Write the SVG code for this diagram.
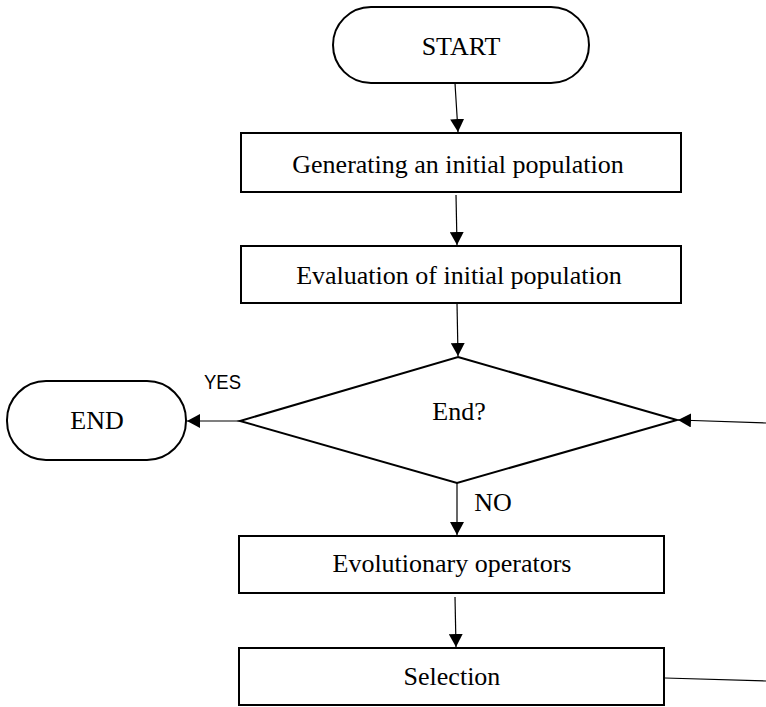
<svg xmlns="http://www.w3.org/2000/svg" width="766" height="707" viewBox="0 0 766 707">
<style>
.box{fill:#fff;stroke:#000;stroke-width:2}
.t{font-family:"Liberation Serif","Times New Roman",serif;font-size:26px;fill:#000;text-anchor:middle}
.s{font-family:"Liberation Sans",Arial,sans-serif;font-size:21px;fill:#000}
.c{fill:none;stroke:#000;stroke-width:1.2;marker-end:url(#ah)}
.cn{fill:none;stroke:#000;stroke-width:1.2}
</style>
<defs>
<marker id="ah" markerWidth="14" markerHeight="14" refX="13" refY="7" orient="auto" markerUnits="userSpaceOnUse">
<path d="M0,0 L13,7 L0,14 Z" fill="#000"/>
</marker>
</defs>
<rect width="766" height="707" fill="#fff"/>
<g id="start">
<rect class="box" x="333" y="7" width="256" height="76" rx="38"/>
<text class="t" x="461" y="55">START</text>
</g>
<g id="gen">
<rect class="box" x="241" y="133" width="440" height="59"/>
<text class="t" x="458" y="173">Generating an initial population</text>
</g>
<g id="eval">
<rect class="box" x="241" y="246" width="440" height="57"/>
<text class="t" x="459" y="284">Evaluation of initial population</text>
</g>
<g id="decision">
<polygon class="box" points="458,357 677,420 457,483 240,421"/>
<text class="t" x="459" y="420">End?</text>
</g>
<g id="end">
<rect class="box" x="7" y="381" width="179" height="79" rx="39"/>
<text class="t" x="97" y="429">END</text>
</g>
<g id="evo">
<rect class="box" x="239" y="536" width="425" height="57"/>
<text class="t" x="452" y="572">Evolutionary operators</text>
</g>
<g id="sel">
<rect class="box" x="239" y="648" width="425" height="57"/>
<text class="t" x="452" y="685">Selection</text>
</g>
<g id="connectors">
<path class="c" d="M455,83 L458,132"/>
<path class="c" d="M456,195 L457,245"/>
<path class="c" d="M457,303 L458,356"/>
<path class="c" d="M240,421 L187,421"/>
<path class="c" d="M457,483 L457,535"/>
<path class="c" d="M455,597 L456,647"/>
<path class="cn" d="M665,678 L766,681"/>
<path class="c" d="M766,423 L678,420"/>
<text class="s" x="204" y="389" textLength="37" lengthAdjust="spacingAndGlyphs">YES</text>
<text class="t" x="493" y="511">NO</text>
</g>
</svg>
